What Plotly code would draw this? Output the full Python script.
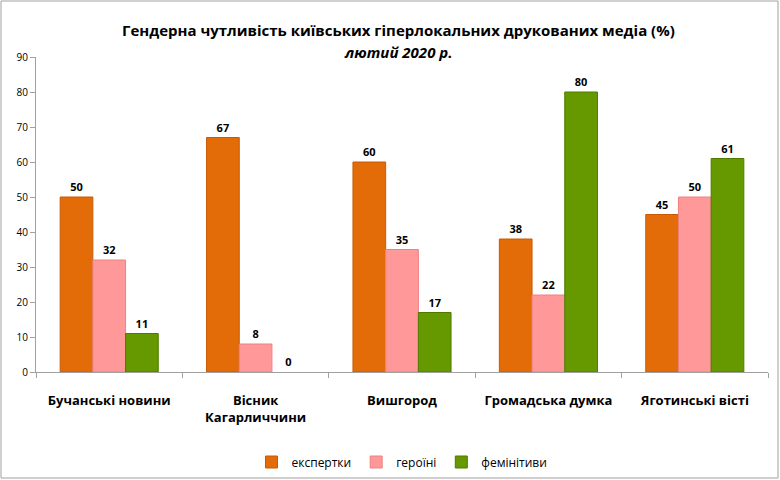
import plotly.graph_objects as go

categories = ["Бучанські новини", "Вісник<br>Кагарличчини", "Вишгород", "Громадська думка", "Яготинські вісті"]
experts = [50, 67, 60, 38, 45]
heroines = [32, 8, 35, 22, 50]
feminitives = [11, 0, 17, 80, 61]
series_names = ["експертки", "героїні", "фемінітиви"]
colors = ["#E36C09", "#FF9999", "#669900"]
line_colors = ["#C85A05", "#F08080", "#4F7A00"]
y_ticks = [0, 10, 20, 30, 40, 50, 60, 70, 80, 90]

FONT = "Open Sans"

fig = go.Figure()
for name, vals, c, lc in zip(series_names, [experts, heroines, feminitives], colors, line_colors):
    fig.add_trace(go.Bar(
        x=categories, y=vals, name=name,
        marker=dict(color=c, line=dict(color=lc, width=[1 if v > 0 else 0 for v in vals])),
        text=[str(v) for v in vals], textposition="outside", cliponaxis=False,
        textfont=dict(family=FONT, size=11, color="#000000", weight="bold"),
    ))

fig.update_layout(
    width=780, height=480,
    margin=dict(l=36, r=12, t=57, b=108, autoexpand=False),
    paper_bgcolor="white", plot_bgcolor="white",
    barmode="group", bargap=0.33, bargroupgap=0,
    font=dict(family=FONT, color="#000000"),
    showlegend=True,
    legend=dict(
        orientation="h", x=0.5, xanchor="center",
        yref="container", y=1-462/480, yanchor="middle",
        font=dict(family=FONT, size=12, color="#000000"),
        traceorder="normal", itemwidth=30,
    ),
    xaxis=dict(
        showline=True, linecolor="#A0A0A0", linewidth=1,
        ticks="outside", tickson="boundaries", ticklen=5, tickcolor="#A0A0A0",
        tickfont=dict(family=FONT, size=13, color="#000000", weight="bold"),
        showgrid=False, automargin=False, ticklabelstandoff=16,
    ),
    yaxis=dict(
        range=[0, 90], tickvals=y_ticks,
        showline=True, linecolor="#A0A0A0", linewidth=1,
        ticks="outside", ticklen=5, tickcolor="#A0A0A0",
        tickfont=dict(family=FONT, size=10, color="#000000"),
        showgrid=False, zeroline=False, automargin=False,
    ),
    annotations=[
        dict(text="<b>Гендерна чутливість київських гіперлокальних друкованих медіа (%)</b>",
             xref="paper", yref="paper", x=(398-36)/732, y=(372-30)/315,
             xanchor="center", yanchor="middle", showarrow=False,
             font=dict(family=FONT, size=15, color="#000000")),
        dict(text="<b><i>лютий 2020 р.</i></b>",
             xref="paper", yref="paper", x=(398-36)/732, y=(372-52)/315,
             xanchor="center", yanchor="middle", showarrow=False,
             font=dict(family=FONT, size=15, color="#000000")),
    ],
    shapes=[dict(type="rect", xref="paper", yref="paper",
                 x0=-35/732, x1=1+10/732, y0=-106/315, y1=1+56/315,
                 line=dict(color="#A0A0A0", width=1))],
)

fig.write_html("out.html")
